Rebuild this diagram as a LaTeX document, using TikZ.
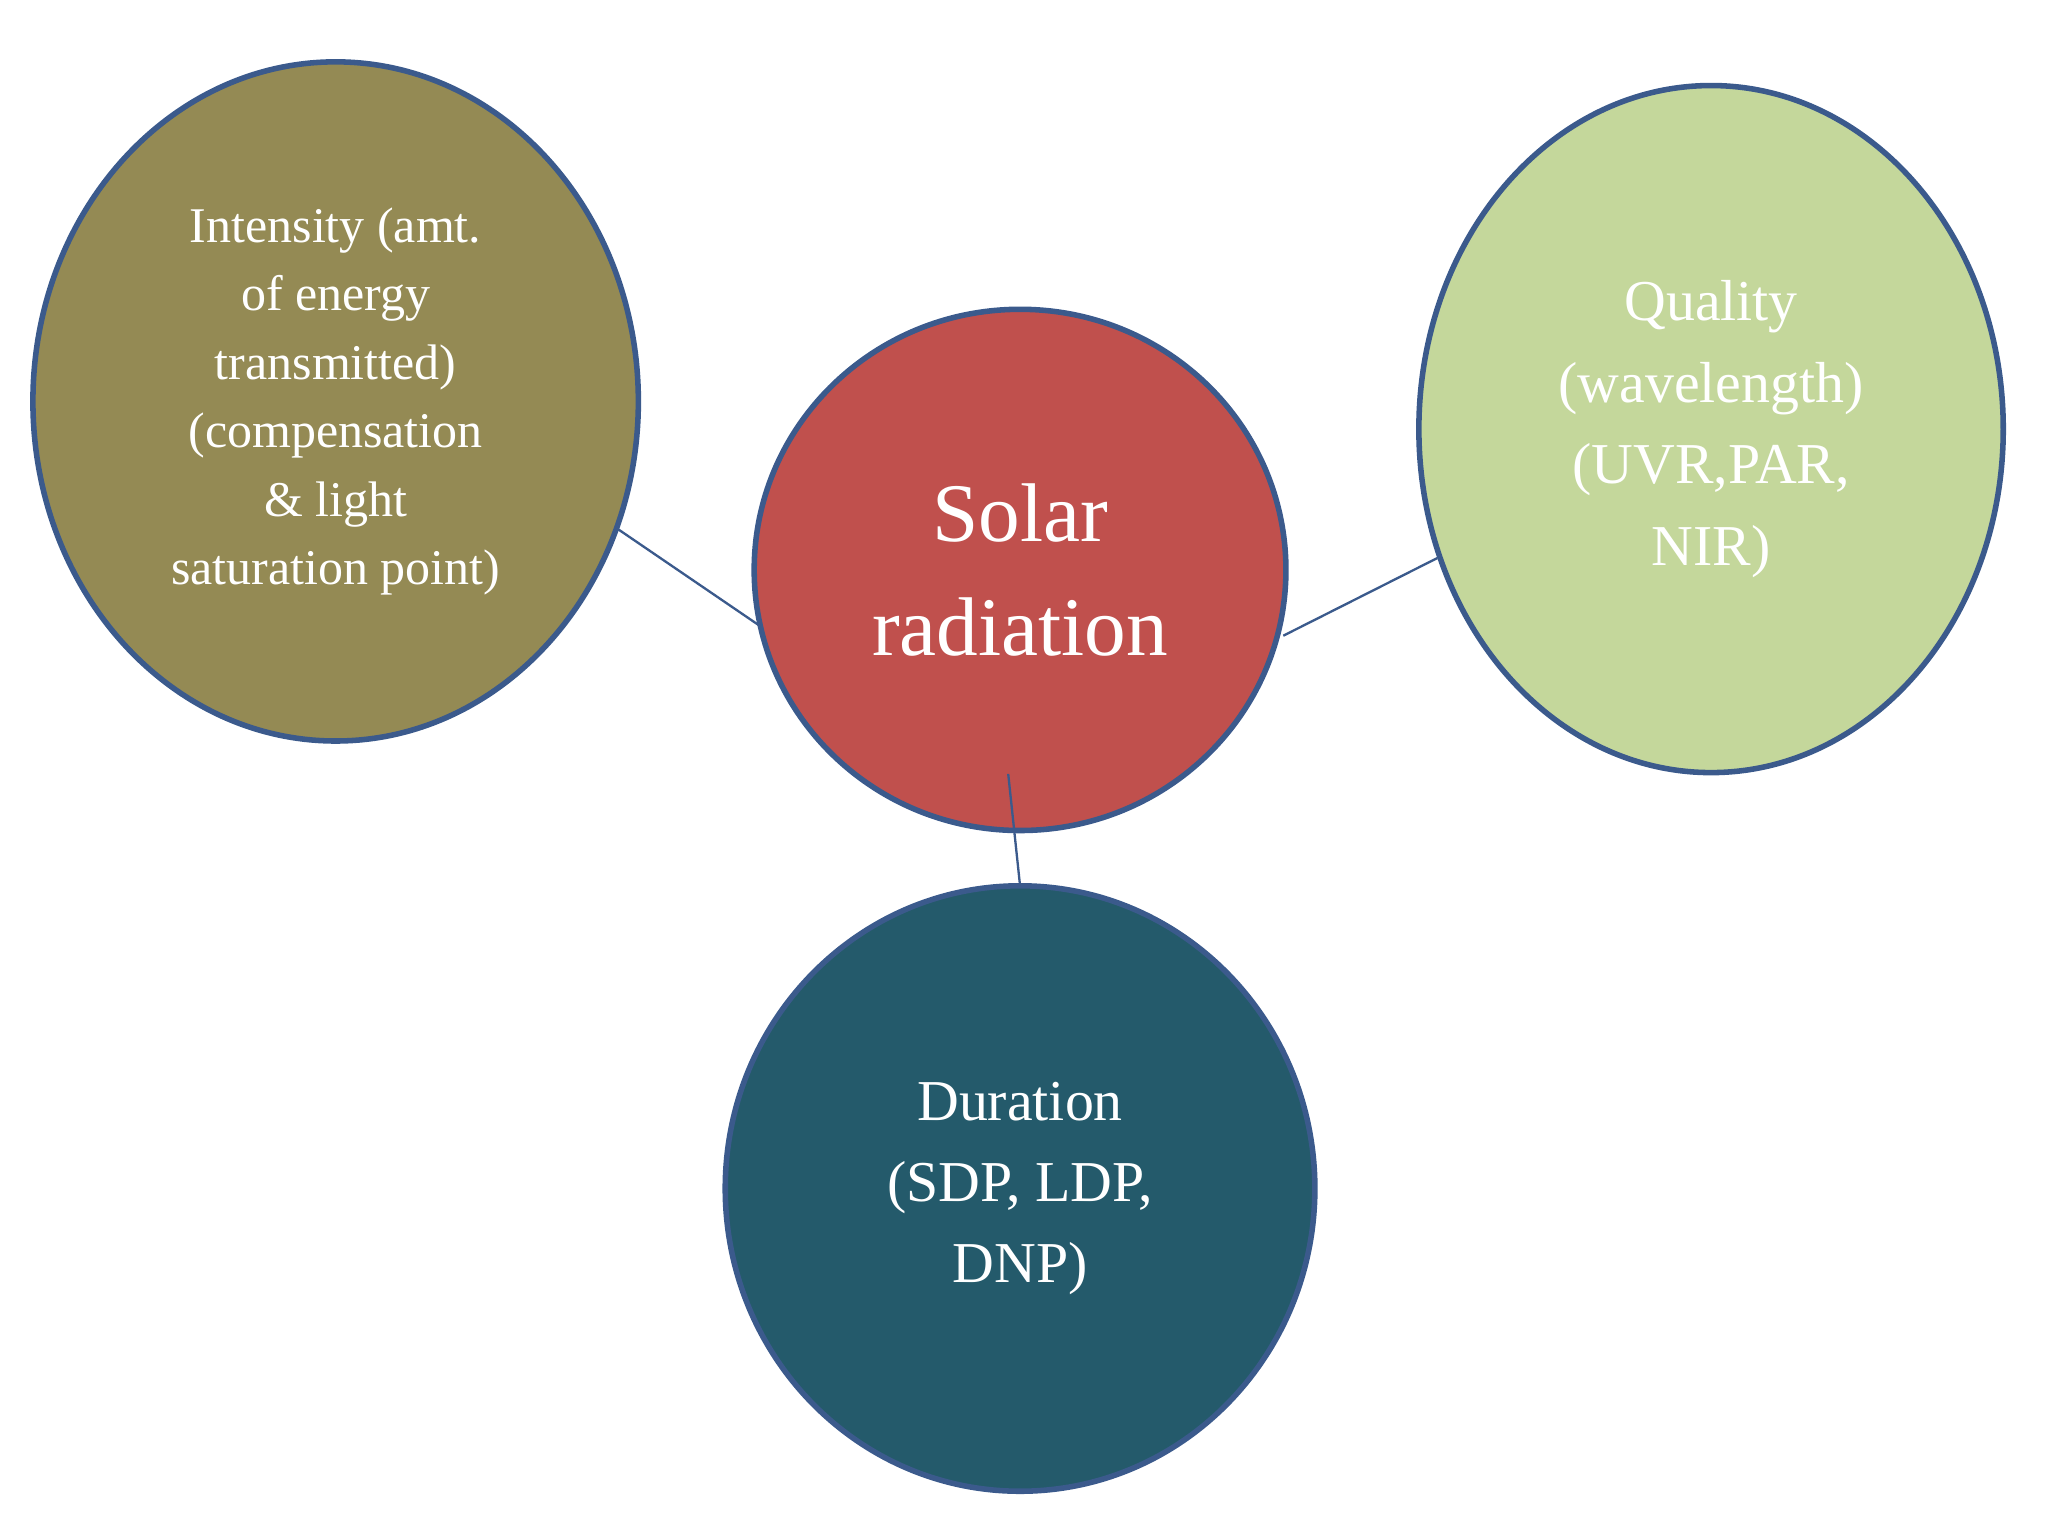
\documentclass[tikz,border=0pt]{standalone}
\usepackage{fontspec}
\setmainfont{Liberation Serif}
\usetikzlibrary{shapes.geometric}
\definecolor{edge}{HTML}{3B5A8C}
\definecolor{cA}{HTML}{948A54}
\definecolor{cB}{HTML}{C0504D}
\definecolor{cC}{HTML}{C4D79B}
\definecolor{cD}{HTML}{245A6B}
\begin{document}
\begin{tikzpicture}
\useasboundingbox (0,0) rectangle (15.56,-11.67);
\tikzset{bub/.style={ellipse,draw=edge,line width=1.2pt,inner sep=0pt,text=white,align=center},
 conn/.style={draw=edge,line width=0.5pt}}
\coordinate (l1) at (4.68,-4.01); \coordinate (l2) at (5.78,-4.76);
\coordinate (r1) at (9.75,-4.83); \coordinate (r2) at (10.92,-4.24);
\coordinate (b1) at (7.66,-5.88); \coordinate (b2) at (7.75,-6.73);
\node[bub,fill=cA,minimum width=4.6cm,minimum height=5.16cm,font=\fontsize{10.8}{14.8}\selectfont] (int) at (2.55,-3.05)
 {Intensity (amt.\\of energy\\transmitted)\\(compensation\\\& light\\saturation point)};
\node[bub,fill=cC,minimum width=4.44cm,minimum height=5.22cm,font=\fontsize{12.5}{17.6}\selectfont] (qual) at (13.0,-3.26)
 {Quality\\(wavelength)\\(UVR,PAR,\\NIR)};
\node[bub,fill=cD,minimum width=4.48cm,minimum height=4.6cm,font=\fontsize{12.5}{17.6}\selectfont] (dur) at (7.75,-9.03)
 {Duration\\(SDP, LDP,\\DNP)};
\node[bub,fill=cB,minimum width=4.04cm,minimum height=3.96cm,font=\fontsize{18}{24.7}\selectfont] (sol) at (7.75,-4.33)
 {Solar\\radiation};
\draw[conn] (l1) -- (l2);
\draw[conn] (r1) -- (r2);
\draw[conn] (b1) -- (b2);
\end{tikzpicture}
\end{document}
